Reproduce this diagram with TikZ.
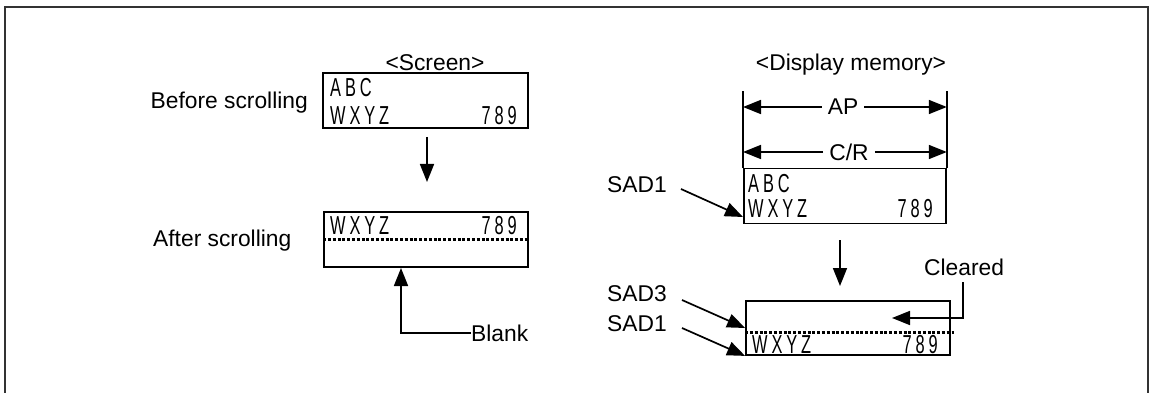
\documentclass[tikz,border=0pt]{standalone}
\usepackage{fontspec}
\setmainfont{Liberation Sans}
\newfontfamily\lcd[FakeStretch=0.63,LetterSpace=15]{Liberation Sans}
\usetikzlibrary{arrows.meta}
\tikzset{
  lbl/.style={font=\fontsize{22.8}{26}\selectfont, inner sep=0pt},
  lcdtxt/.style={font=\lcd\fontsize{26}{28}\selectfont, inner sep=0pt},
  boxnode/.style={draw, line width=1.8pt, inner sep=0pt},
  arr/.style={line width=1.7pt, -{Triangle[length=18pt,width=14pt]}},
  dotline/.style={line width=3pt, dash pattern=on 3pt off 1.8pt},
  frameline/.style={line width=1.6pt, draw=black!80},
}
\begin{document}
\begin{tikzpicture}[x=1pt,y=-1pt]
\useasboundingbox (0,0) rectangle (1152,393);
% frame
\draw[frameline] (5,393) -- (5,7) -- (1148,7) -- (1148,393);

% ---------- left: screen ----------
\node[lbl] (scr) at (435,63) {<Screen>};
\node[boxnode, minimum width=205pt, minimum height=55pt] (b1) at (425.5,100.5) {};
\node[lbl, anchor=base east] (before) at (308,109) {Before scrolling};
\node[lcdtxt, anchor=base west] (b1a) at (330,97) {ABC};
\node[lcdtxt, anchor=base west] (b1w) at (330,125) {WXYZ};
\node[lcdtxt, anchor=base east] (b1n) at (517,125) {789};

\coordinate (d1s) at (427,137);
\coordinate (d1e) at (427,182);
\draw[arr] (d1s) -- (d1e);

\node[boxnode, minimum width=204pt, minimum height=55pt] (b2) at (426,239.5) {};
\node[lbl, anchor=base west] (after) at (153,246) {After scrolling};
\node[lcdtxt, anchor=base west] (b2w) at (330,234) {WXYZ};
\node[lcdtxt, anchor=base east] (b2n) at (517,234) {789};
\draw[dotline] (b2.west |- 0,239) -- (b2.east |- 0,239);

\node[lbl, anchor=base west] (blank) at (471,341) {Blank};
\draw[arr] (blank.west |- 0,333) -| (401,268);

% ---------- right: display memory ----------
\node[lbl] (dm) at (851,65) {<Display memory>};
\node[boxnode, minimum width=202pt, minimum height=55pt] (b3) at (743,196) [anchor=west] {};
\draw[line width=1.6pt] (b3.north west) -- ++(0,-77);
\draw[line width=1.6pt] (b3.north east) -- ++(0,-77);
\node[lbl, fill=white, inner xsep=6pt] (ap) at (843,107) {AP};
\draw[arr] (ap.west) -- (b3.north west |- ap.west);
\draw[arr] (ap.east) -- (b3.north east |- ap.east);
\node[lbl, fill=white, inner xsep=6pt] (cr) at (849,152) {C/R};
\draw[arr] (cr.west) -- (b3.north west |- cr.west);
\draw[arr] (cr.east) -- (b3.north east |- cr.east);
\node[lcdtxt, anchor=base west] (b3a) at (748,193) {ABC};
\node[lcdtxt, anchor=base west] (b3w) at (748,218) {WXYZ};
\node[lcdtxt, anchor=base east] (b3n) at (933,218) {789};
\node[lbl, anchor=base west] (sad1a) at (607,193) {SAD1};
\coordinate (s1s) at (681,189);
\draw[arr] (s1s) -- (b3.west |- 0,217);

\coordinate (d2s) at (840,240);
\coordinate (d2e) at (840,286);
\draw[arr] (d2s) -- (d2e);

\node[boxnode, minimum width=204pt, minimum height=54pt] (b4) at (848,328) {};
\draw[dotline] (b4.west |- 0,332) -- ([xshift=3pt]b4.east |- 0,332);
\node[lcdtxt, anchor=base west] (b4w) at (752,353) {WXYZ};
\node[lcdtxt, anchor=base east] (b4n) at (938,353) {789};
\node[lbl, anchor=base west] (sad3) at (607,301) {SAD3};
\node[lbl, anchor=base west] (sad1b) at (607,331) {SAD1};
\coordinate (s3s) at (682,300);
\coordinate (s1bs) at (682,328);
\draw[arr] (s3s) -- (b4.west |- 0,328);
\draw[arr] (s1bs) -- (b4.south west);

\node[lbl, anchor=base west] (clr) at (924,275) {Cleared};
\coordinate (c1) at (963,282);
\draw[arr] (c1) |- (892,318);
\end{tikzpicture}
\end{document}
